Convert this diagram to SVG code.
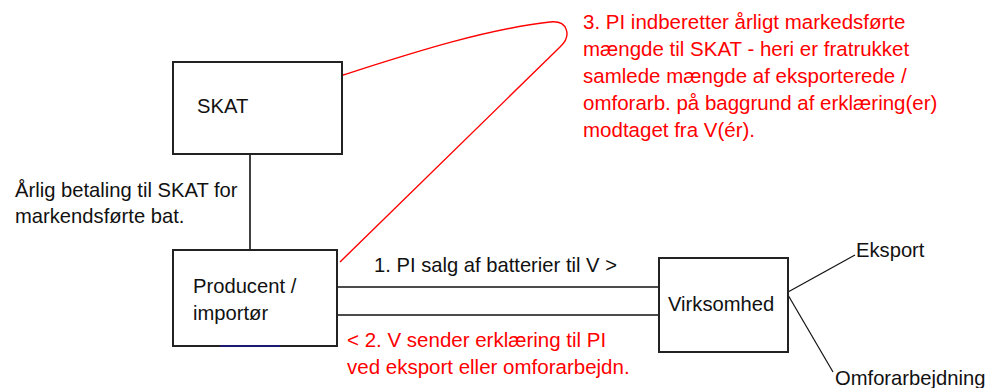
<svg xmlns="http://www.w3.org/2000/svg" width="989" height="388" viewBox="0 0 989 388">
  <style>
    text { font-family: "Liberation Sans", Arial, sans-serif; font-size: 20.2px; fill: #111; }
    .red { fill: #ff0000; font-size: 20.5px; }
    .box { fill: #fff; stroke: #222; stroke-width: 2; }
    .conn { stroke: #111; stroke-width: 1.6; fill: none; }
    .thin { stroke: #111; stroke-width: 1.2; fill: none; }
    .redline { stroke: #ff0000; stroke-width: 1.4; fill: none; }
  </style>
  <rect width="989" height="388" fill="#fff"/>

  <g id="connectors">
    <line class="conn" x1="250" y1="154" x2="250" y2="250"/>
    <line class="conn" x1="337" y1="287" x2="660" y2="287"/>
    <line class="conn" x1="337" y1="315" x2="662" y2="315"/>
    <line class="thin" x1="788" y1="292" x2="855" y2="255"/>
    <line class="thin" x1="788" y1="295" x2="833" y2="372"/>
    <path class="redline" d="M343,75 C400,57 480,30 550,22 C568,20 572,36 560,47 L340,262"/>
  </g>

  <g id="skat">
    <rect class="box" x="173" y="62" width="169" height="92"/>
    <text x="197" y="113">SKAT</text>
  </g>

  <g id="producent">
    <rect class="box" x="173" y="250" width="164" height="96"/>
    <line x1="220" y1="346" x2="280" y2="346" stroke="#1a1a70" stroke-width="2"/>
    <text x="193" y="293">Producent /</text>
    <text x="193" y="320">importør</text>
  </g>

  <g id="virksomhed">
    <rect class="box" x="659" y="258" width="129" height="94"/>
    <text x="668" y="311">Virksomhed</text>
  </g>

  <g id="eksport">
    <text x="856" y="257">Eksport</text>
  </g>

  <g id="omforarbejdning">
    <text x="835" y="385">Omforarbejdning</text>
  </g>

  <g id="labels">
    <text x="15" y="197">Årlig betaling til SKAT for</text>
    <text x="15" y="223">markendsførte bat.</text>
    <text x="374" y="272">1. PI salg af batterier til V &gt;</text>
    <text class="red" x="347" y="347">&lt; 2. V sender erklæring til PI</text>
    <text class="red" x="347" y="374">ved eksport eller omforarbejdn.</text>
    <text class="red" x="583" y="29">3. PI indberetter årligt markedsførte</text>
    <text class="red" x="583" y="56">mængde til SKAT - heri er fratrukket</text>
    <text class="red" x="583" y="83">samlede mængde af eksporterede /</text>
    <text class="red" x="583" y="110">omforarb. på baggrund af erklæring(er)</text>
    <text class="red" x="583" y="137">modtaget fra V(ér).</text>
  </g>
</svg>
